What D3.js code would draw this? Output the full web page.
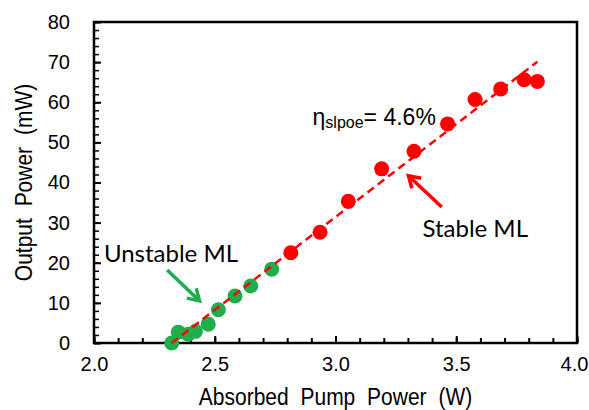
<!DOCTYPE html>
<html>
<head>
<meta charset="utf-8">
<script src="https://cdn.jsdelivr.net/npm/d3@7"></script>
<style>
  body { margin: 0; background: #fff; }
  svg text { font-family: "Liberation Sans", Arial, sans-serif; }
</style>
</head>
<body>
<svg id="chart" width="589" height="410"></svg>
<script>
// unstable mode-locking points (green)
const unstableX = [2.322, 2.349, 2.39, 2.42, 2.473, 2.515, 2.584, 2.649, 2.736];
const unstableY = [0, 2.7, 2.2, 2.9, 4.7, 8.3, 11.7, 14.2, 18.4];

// stable mode-locking points (red)
const stableX = [2.815, 2.936, 3.053, 3.191, 3.325, 3.464, 3.578, 3.684, 3.781, 3.836];
const stableY = [22.5, 27.6, 35.3, 43.4, 47.8, 54.6, 60.7, 63.3, 65.6, 65.2];

// linear fit end points
const fitX = [2.322, 3.836];
const fitY = [0, 70.1];

const xTicks = [2.0, 2.5, 3.0, 3.5, 4.0];
const yTicks = [0, 10, 20, 30, 40, 50, 60, 70, 80];

const margin = { top: 22, right: 12, bottom: 67, left: 94 };
const width = 589 - margin.left - margin.right;
const height = 410 - margin.top - margin.bottom;

const svg = d3.select("#chart");
const g = svg.append("g").attr("transform", `translate(${margin.left},${margin.top})`);

const x = d3.scaleLinear().domain([2.0, 4.0]).range([0, width]);
const y = d3.scaleLinear().domain([0, 80]).range([height, 0]);

// minor ticks (inside)
g.append("g")
  .attr("transform", `translate(0,${height})`)
  .call(d3.axisTop(x).tickValues(d3.range(2.0, 4.0001, 0.1)).tickSize(5).tickFormat(""))
  .call(a => a.select(".domain").remove())
  .selectAll("line").attr("stroke", "#000").attr("stroke-width", 2);

g.append("g")
  .call(d3.axisRight(y).tickValues(d3.range(0, 80.001, 2)).tickSize(5).tickFormat(""))
  .call(a => a.select(".domain").remove())
  .selectAll("line").attr("stroke", "#000").attr("stroke-width", 1.5);

// major ticks with labels
const xAxis = g.append("g")
  .attr("transform", `translate(0,${height})`)
  .call(d3.axisBottom(x).tickValues(xTicks).tickSizeInner(-7).tickSizeOuter(0).tickPadding(14).tickFormat(d3.format(".1f")));
xAxis.select(".domain").remove();
xAxis.selectAll("line").attr("stroke", "#000").attr("stroke-width", 2);
xAxis.selectAll("text").attr("font-size", 20).attr("fill", "#000")
  .attr("dx", d => d === 4.0 ? -3 : 0);

const yAxis = g.append("g")
  .call(d3.axisLeft(y).tickValues(yTicks).tickSizeInner(-7).tickSizeOuter(0).tickPadding(24));
yAxis.select(".domain").remove();
yAxis.selectAll("line").attr("stroke", "#000").attr("stroke-width", 2);
yAxis.selectAll("text").attr("font-size", 20).attr("fill", "#000");

// frame
g.append("rect")
  .attr("width", width).attr("height", height)
  .attr("fill", "none").attr("stroke", "#000").attr("stroke-width", 2.5);

const unstable = unstableX.map((v, i) => ({ x: v, y: unstableY[i] }));
const stable = stableX.map((v, i) => ({ x: v, y: stableY[i] }));

g.selectAll("circle.unstable")
  .data(unstable)
  .enter().append("circle")
  .attr("class", "unstable")
  .attr("cx", d => x(d.x)).attr("cy", d => y(d.y))
  .attr("r", 7.5).attr("fill", "#1fae4b");

g.selectAll("circle.stable")
  .data(stable)
  .enter().append("circle")
  .attr("class", "stable")
  .attr("cx", d => x(d.x)).attr("cy", d => y(d.y))
  .attr("r", 7.5).attr("fill", "#ff0000");

// fit line on top of the points
g.append("line")
  .attr("x1", x(fitX[0])).attr("y1", y(fitY[0]))
  .attr("x2", x(fitX[1])).attr("y2", y(fitY[1]))
  .attr("stroke", "#ff0000").attr("stroke-width", 2.5)
  .attr("stroke-dasharray", "8,5");

// arrows
function arrow(x1, y1, x2, y2, color) {
  const ang = Math.atan2(y2 - y1, x2 - x1);
  const len = 13, spread = 0.55;
  g.append("line")
    .attr("x1", x1).attr("y1", y1).attr("x2", x2).attr("y2", y2)
    .attr("stroke", color).attr("stroke-width", 3.5);
  g.append("path")
    .attr("d", `M${x2 - len * Math.cos(ang - spread)},${y2 - len * Math.sin(ang - spread)}L${x2},${y2}L${x2 - len * Math.cos(ang + spread)},${y2 - len * Math.sin(ang + spread)}`)
    .attr("fill", "none").attr("stroke", color).attr("stroke-width", 3.5);
}
arrow(x(2.303), y(18.2), x(2.437), y(10.5), "#1fae4b");
arrow(x(3.44), y(33.9), x(3.302), y(41.7), "#ff0000");

// annotation text
g.append("text")
  .attr("x", x(2.041)).attr("y", y(20.1))
  .style("font-family", "Lato, sans-serif")
  .attr("font-size", 24).attr("fill", "#000")
  .text("Unstable ML");

g.append("text")
  .attr("x", x(3.36)).attr("y", y(26.4))
  .style("font-family", "Lato, sans-serif")
  .attr("font-size", 24).attr("fill", "#000")
  .text("Stable ML");

const eta = g.append("text")
  .attr("x", x(2.905)).attr("y", y(54.4))
  .attr("font-size", 23).attr("fill", "#000");
eta.append("tspan").text("η");
eta.append("tspan").attr("font-size", 16).attr("dy", 3).text("slpoe");
eta.append("tspan").attr("dy", -3).text("= 4.6%");

// axis titles (glyphs a bit taller than wide, as in the source)
svg.append("text")
  .attr("transform", `translate(${margin.left + width / 2},405) scale(1,1.15)`)
  .attr("text-anchor", "middle").attr("font-size", 21)
  .attr("word-spacing", 6)
  .text("Absorbed Pump Power (W)");

svg.append("text")
  .attr("transform", `translate(32,${margin.top + height / 2}) rotate(-90) scale(1,1.15)`)
  .attr("text-anchor", "middle").attr("font-size", 21)
  .attr("word-spacing", 6)
  .text("Output Power (mW)");
</script>
</body>
</html>
